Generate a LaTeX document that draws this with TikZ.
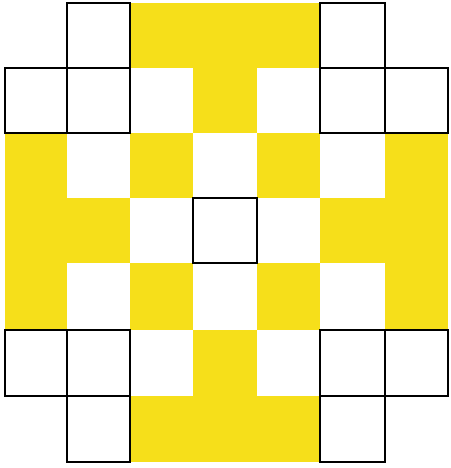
\documentclass[tikz,border=0pt]{standalone}
\definecolor{cellyellow}{RGB}{246,223,26}
\tikzset{
  yellowcell/.style={fill=cellyellow, draw=none},
  outlinecell/.style={draw=black, line width=2.4pt, line cap=rect}
}
\newcommand\gridcell[3]{%
  \pgfmathsetmacro\xa{{5,67,130,193,257,320,385,448}[#3-1]}%
  \pgfmathsetmacro\xb{{5,67,130,193,257,320,385,448}[#3]}%
  \pgfmathsetmacro\ya{{3,68,133,198,263,330,396,462}[#2-1]}%
  \pgfmathsetmacro\yb{{3,68,133,198,263,330,396,462}[#2]}%
  \path[#1] (\xa,\ya) rectangle (\xb,\yb);%
}
\begin{document}
\begin{tikzpicture}[x=1pt,y=-1pt]
\useasboundingbox (0,0) rectangle (450,468);
\foreach \r/\c in {1/3,1/4,1/5,2/4,3/1,3/3,3/5,3/7,4/1,4/2,4/6,4/7,5/1,5/3,5/5,5/7,6/4,7/3,7/4,7/5}
  {\gridcell{yellowcell}{\r}{\c}}
\foreach \r/\c in {1/2,1/6,2/1,2/2,2/6,2/7,4/4,6/1,6/2,6/6,6/7,7/2,7/6}
  {\gridcell{outlinecell}{\r}{\c}}
\end{tikzpicture}
\end{document}
